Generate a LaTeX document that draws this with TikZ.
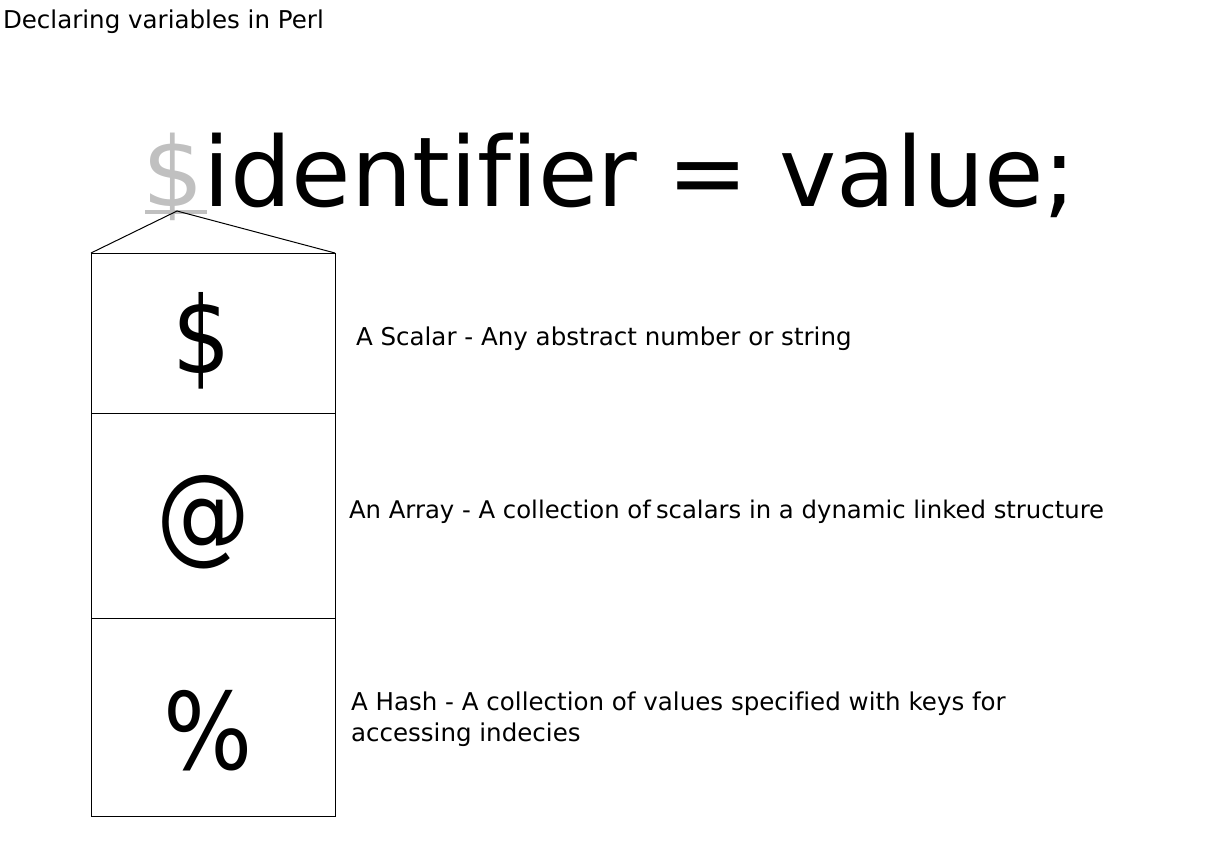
\documentclass[tikz,border=0pt]{standalone}
\usepackage{fontspec}
\setmainfont{DejaVu Sans}[Ligatures=CommonOff]
\definecolor{dollargray}{RGB}{192,192,192}
\begin{document}
\begin{tikzpicture}[x=0.75pt,y=-0.75pt,
  txt/.style={inner sep=0pt,outer sep=0pt,anchor=base west,font=\fontsize{18.4}{22}\selectfont},
  big/.style={inner sep=0pt,outer sep=0pt,font=\fontsize{72.5}{80}\selectfont},
  sym/.style={inner sep=0pt,outer sep=0pt,anchor=base,font=\fontsize{80}{80}\selectfont},
  frame/.style={draw=black,line width=0.75pt}]
\useasboundingbox (0,0) rectangle (1224,844);
\node[txt] (title) at (3,28) {Declaring variables in Perl};
\node[big,anchor=base west,text=dollargray] (dol) at (142,206) {\$};
\node[big,anchor=base west] (main) at (dol.base east) {identifier = value;};
\coordinate (ul1) at (145,212);
\coordinate (ul2) at (207,212);
\draw[dollargray,line width=2.4pt] (ul1) -- (ul2);
\coordinate (apex) at (177,211);
\coordinate (tl) at (91,253);
\coordinate (tr) at (335,253);
\coordinate (r1) at (91,413);
\coordinate (r1e) at (335,413);
\coordinate (r2) at (91,618);
\coordinate (r2e) at (335,618);
\coordinate (bl) at (91,816);
\coordinate (br) at (335,816);
\draw[frame] (tl) -- (apex) -- (tr);
\draw[frame] (tl) rectangle (br);
\draw[frame] (r1) -- (r1e);
\draw[frame] (r2) -- (r2e);
\node[sym] (s1) at (201.5,373) {\scalebox{0.86}[1]{\$}};
\node[sym] (s2) at (203.5,550) {\scalebox{0.88}[1]{@}};
\node[sym] (s3) at (208,769) {\scalebox{0.88}[1]{\%}};
\node[txt] (t1) at (356,345) {A Scalar - Any abstract number or string};
\node[txt,font=\fontsize{18.25}{22}\selectfont] (t2) at (349,518) {An Array - A collection of\hspace{-2pt} scalars in a dynamic linked structure};
\node[txt] (t3) at (351,710) {A Hash - A collection of values specified with keys for};
\node[txt] (t3b) at (351,741) {accessing indecies};
\end{tikzpicture}
\end{document}
